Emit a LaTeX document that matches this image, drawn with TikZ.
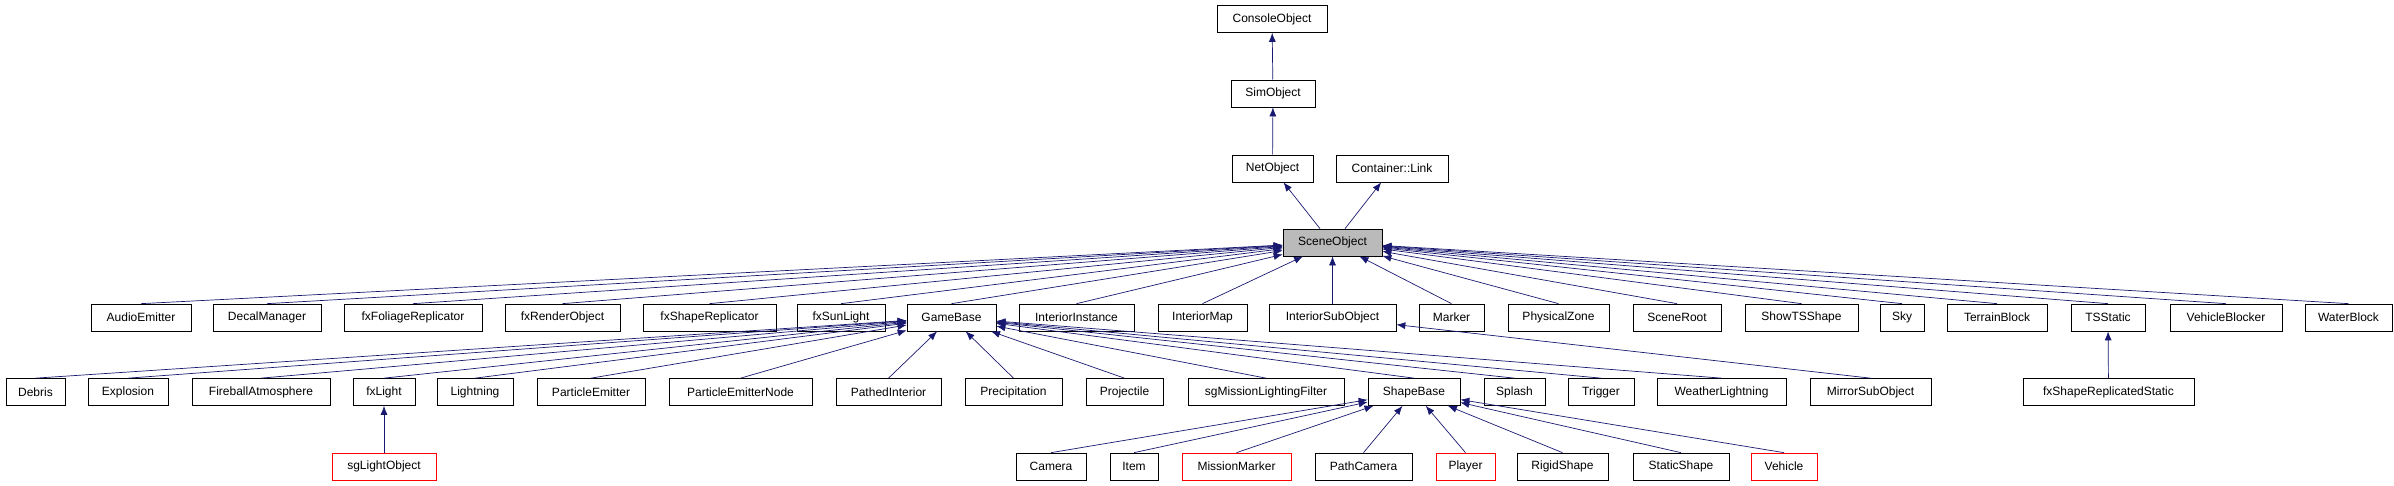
\documentclass[tikz,border=0pt]{standalone}
\usepackage{fontspec}
\setmainfont{Liberation Sans}
\usetikzlibrary{arrows.meta}
\definecolor{edgeblue}{RGB}{25,25,112}

\begin{document}
\begin{tikzpicture}[x=1pt,y=1pt,
  box/.style={draw=black, line width=0.7pt, inner sep=0pt, minimum height=27pt,
    font=\fontsize{12}{14}\selectfont, fill=white},
  redbox/.style={box, draw=red},
  edge/.style={draw=edgeblue, line width=0.7pt, {Latex[length=9pt,width=7pt]}-}]
\useasboundingbox (0,0) rectangle (2394,-485);

% top chain
\node[box, minimum width=110] (ConsoleObject) at (1272,-19) {ConsoleObject};
\node[box, minimum width=84] (SimObject) at (1273,-93.5) {SimObject};
\node[box, minimum width=81] (NetObject) at (1272.5,-168.5) {NetObject};
\node[box, minimum width=112] (Link) at (1392,-168.5) {Container::Link};
\node[box, minimum width=99, fill=black!27] (SceneObject) at (1332.5,-242.5) {SceneObject};
\draw[edge] (ConsoleObject) -- (SimObject);
\draw[edge] (SimObject) -- (NetObject);
\draw[edge] (NetObject) -- (SceneObject.north -| 1320,0);
\draw[edge] (Link) -- (SceneObject.north -| 1345,0);

% first row
\foreach \n/\l/\r in {AudioEmitter/91/191, DecalManager/213/321, fxFoliageReplicator/344/482,
  fxRenderObject/505/620, fxShapeReplicator/643/776, fxSunLight/797/885, GameBase/907/996,
  InteriorInstance/1019/1134, InteriorMap/1158/1247, InteriorSubObject/1269/1396,
  Marker/1419/1484, PhysicalZone/1508/1609, SceneRoot/1633/1721, ShowTSShape/1745/1858,
  Sky/1880/1924, TerrainBlock/1947/2047, TSStatic/2071/2145, VehicleBlocker/2170/2282,
  WaterBlock/2305/2392} {
\node[box, minimum width=\r-\l] (\n) at ({(\l+\r)/2},-317.5) {\n};
\draw[edge] (SceneObject) -- (\n.north);
}

% second row
\foreach \n/\l/\r in {Debris/6/65, Explosion/88/168, FireballAtmosphere/192/330, fxLight/353/415,
  Lightning/437/513, ParticleEmitter/537/645, ParticleEmitterNode/669/812,
  PathedInterior/836/941, Precipitation/965/1062, Projectile/1086/1163,
  sgMissionLightingFilter/1188/1344, ShapeBase/1368/1460, Splash/1484/1545,
  Trigger/1568/1634, WeatherLightning/1657/1786} {
\node[box, minimum width=\r-\l] (\n) at ({(\l+\r)/2},-392) {\n};
\draw[edge] (GameBase) -- (\n.north);
}
\node[box, minimum width=121] (MirrorSubObject) at (1870.5,-392) {MirrorSubObject};
\draw[edge] (InteriorSubObject) -- (MirrorSubObject.north);
\node[box, minimum width=171] (fxShapeReplicatedStatic) at (2108.5,-392) {fxShapeReplicatedStatic};
\draw[edge] (TSStatic) -- (fxShapeReplicatedStatic);

% third row
\node[redbox, minimum width=104] (sgLightObject) at (384,-466.5) {sgLightObject};
\draw[edge] (fxLight) -- (sgLightObject);
\foreach \n/\l/\r/\s in {Camera/1016/1086/box, Item/1110/1158/box, MissionMarker/1182/1291/redbox,
  PathCamera/1315/1412/box, Player/1436/1495/redbox, RigidShape/1517/1608/box,
  StaticShape/1633/1729/box, Vehicle/1751/1817/redbox} {
\node[\s, minimum width=\r-\l] (\n) at ({(\l+\r)/2},-466.5) {\n};
\draw[edge] (ShapeBase) -- (\n.north);
}

\end{tikzpicture}
\end{document}
